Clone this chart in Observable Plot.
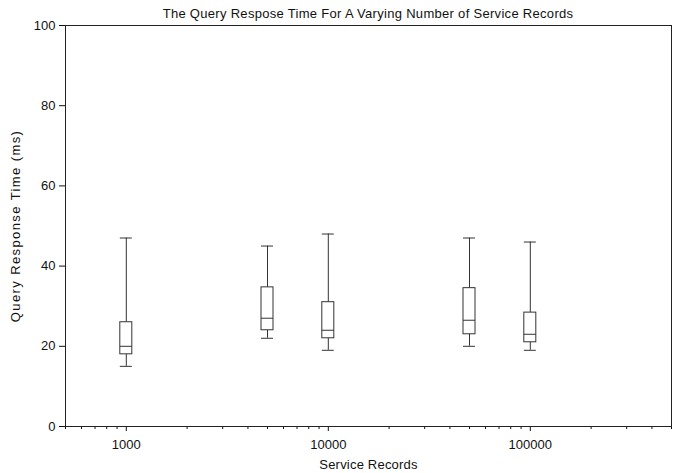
<!DOCTYPE html>
<html><head><meta charset="utf-8">
<script src="https://cdn.jsdelivr.net/npm/d3@7"></script>
<script src="https://cdn.jsdelivr.net/npm/@observablehq/plot@0.6"></script>
<style>
body{margin:0;background:#fff;font-family:"Liberation Sans",Arial,Helvetica,sans-serif;}
#wrap{position:relative;width:673px;height:473px;}
#title{position:absolute;left:0;top:0;width:673px;height:25px;box-sizing:border-box;padding-left:63px;text-align:center;font-size:13px;letter-spacing:0.3px;line-height:27px;color:#111;white-space:nowrap;}
</style></head><body>
<div id="wrap">
<div id="chart"></div>
<div id="title">The Query Respose Time For A Varying Number of Service Records</div>
</div>
<script>
const records = [1000, 5000, 10000, 50000, 100000];
const whiskerLow = [15, 22, 19, 20, 19];
const q1 = [18, 24, 22, 23, 21];
const median = [20, 27, 24, 26.5, 23];
const q3 = [26, 34.7, 31, 34.5, 28.4];
const whiskerHigh = [47, 45, 48, 47, 46];
const majorTicks = [1000, 10000, 100000];
const minorTicks = [500, 600, 700, 800, 900, 2000, 3000, 4000, 5000, 6000, 7000, 8000, 9000,
  20000, 30000, 40000, 50000, 60000, 70000, 80000, 90000, 200000, 300000, 400000, 500000];
const yTicks = [0, 20, 40, 60, 80, 100];

const data = records.map((r, i) => ({x: r, lo: whiskerLow[i], q1: q1[i], med: median[i], q3: q3[i], hi: whiskerHigh[i]}));
const ink = "#333";
const half = -6;

const plot = Plot.plot({
  width: 673, height: 473,
  marginLeft: 65, marginRight: 2, marginTop: 25, marginBottom: 47,
  style: {fontFamily: '"Liberation Sans", Arial, Helvetica, sans-serif', fontSize: "13px", color: "#111", background: "#fff"},
  x: {type: "log", domain: [500, 500000]},
  y: {domain: [0, 100]},
  marks: [
    Plot.axisY({ticks: yTicks, tickSize: 6, tickPadding: 4, label: "Query Response Time (ms)", labelAnchor: "center", labelArrow: "none", labelOffset: 55}),
    Plot.axisX({ticks: majorTicks, tickSize: 5, tickPadding: 8, tickFormat: d => String(d), label: "Service Records", labelAnchor: "center", labelArrow: "none", labelOffset: 42}),
    Plot.axisX({ticks: minorTicks, tickSize: 3, tickFormat: () => "", label: null}),
    Plot.ruleX(data, {x: "x", y1: "lo", y2: "q1", stroke: ink}),
    Plot.ruleX(data, {x: "x", y1: "q3", y2: "hi", stroke: ink}),
    Plot.rect(data, {x1: "x", x2: "x", y1: "q1", y2: "q3", insetLeft: half, insetRight: half, fill: "white", stroke: ink}),
    Plot.ruleY(data, {y: "med", x1: "x", x2: "x", insetLeft: half, insetRight: half, stroke: ink}),
    Plot.ruleY(data, {y: "lo", x1: "x", x2: "x", insetLeft: half, insetRight: half, stroke: ink}),
    Plot.ruleY(data, {y: "hi", x1: "x", x2: "x", insetLeft: half, insetRight: half, stroke: ink}),
    Plot.frame({stroke: "#222"})
  ]
});
d3.select(plot).selectAll("g[aria-label='y-axis label'] text").style("letter-spacing", "1.4px");
d3.select(plot).selectAll("g[aria-label='x-axis label'] text").style("letter-spacing", "0.2px");
document.getElementById("chart").appendChild(plot);
</script>
</body></html>
